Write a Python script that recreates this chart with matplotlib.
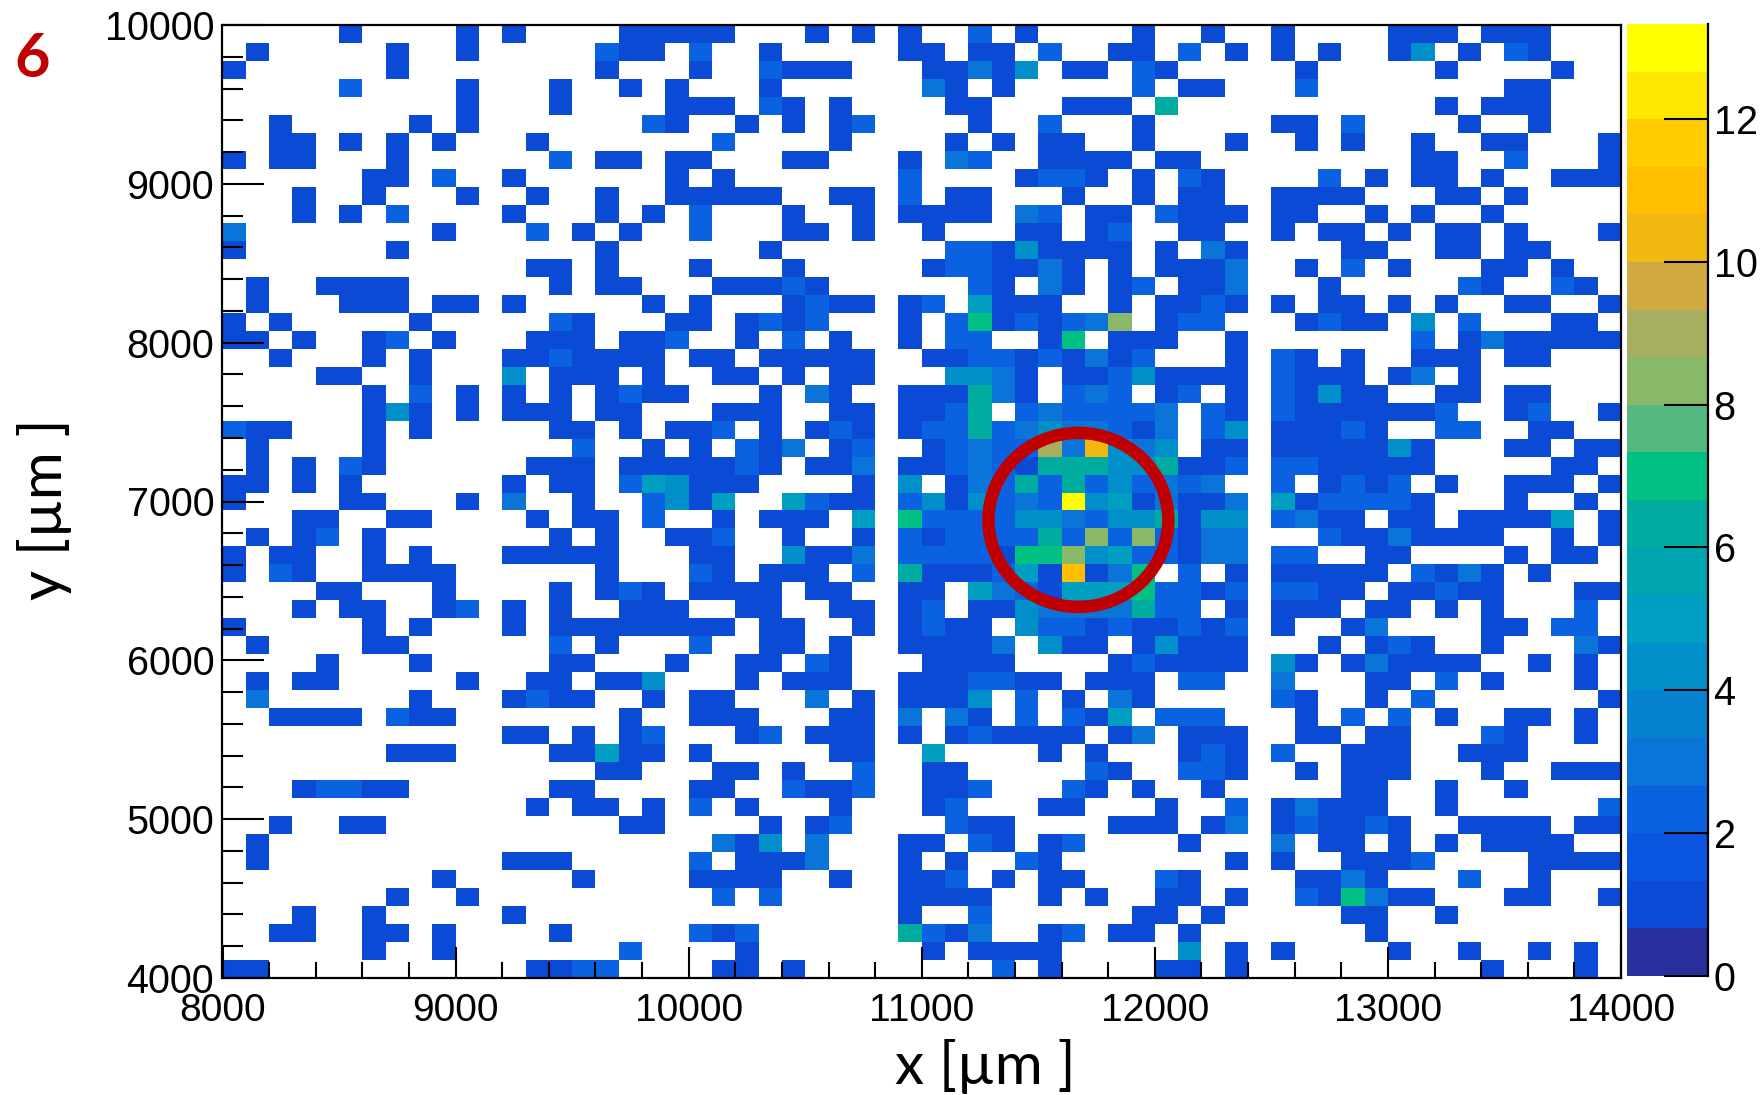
import matplotlib
matplotlib.use("Agg")
import matplotlib.pyplot as plt
import numpy as np
from matplotlib.colors import BoundaryNorm, ListedColormap
from matplotlib.patches import Ellipse
from matplotlib.ticker import MultipleLocator

# counts per cell, top row first: . = empty, 1-9, a-d = 10-13
counts_left = [
    ".....1....1.1....111", ".1.....1..1.....211.", "1......1........1...",
    ".....2....1...1..1.1", "..........1...1....1", "..1.....1.1.......21",
    "..11.1.1.1...1......", "1.11...1......2.11.1", "......11.2..1......1",
    "...1..1...1..1..1..1", "...1.1.2....1...1.1.", "3........1...2.1.1..",
    "1......1........1...", ".............11.1...", ".1..1111......1.11..",
    ".1...111.11.1.....1.", "1.1.....1.....21...1", "11.1..12.1...111.112",
    "..1...1.1...1121111.", "....11..1...4.111.1.", "......1.2.1.1.1.1211",
    "......141.1.111.11..", "211...1.1.....11.1.1", ".1....1........2..1.",
    ".1.1.21......111.111", "11.1.1......1.11.254", "1....11...1.3..1..24",
    "...11..11....1.11.2.", ".1.12.1.......1.1..1", "1.11..1.1...11111...",
    "1.21..1111......1...", "....11...1....1.121.", "...1.11..12.1.1..111",
    "1.....1.1...1.111111", ".1....11......2.1...", "....1...1.....11...1",
    ".1.11.....1..11.114.", ".3......1...1211..1.", "..1111.211.......1..",
    "............11.1.12.", ".......111....11511.", "................11..",
    "...12211......11....", ".............1.11.1.", "..1..11..........11.",
    ".1..................", ".1..........111.....", ".........1.....1....",
    ".......1..1.........", "...1..1.....1.......", "..11..11.1....1.....",
    "......1..1.......2..", "11...........1122...",
]
counts_mid = [
    "11...1.1.1..2.1....1", "2..1.....11.11.2..11", "1..2111...11314.11.2",
    "...1......31.1.....2", "11.21.1....11...111.", "..1.1.12....1..2...1",
    ".2....1....1.1.11..1", "1...11...1.32..1111.", ".1.......2....1221.1",
    "1111..11.2.11...1..1", "2...1..1.1111.32.11.", "2...11.1..1...11.12.",
    "...1.......22141111.", "1...1.....1221131.1.", ".11121......21.31.12",
    "1...1211.12.5111..1.", "1.1212...1.27121238.", "..1.2.1..1.22..17.11",
    "11.11111..1122121312", ".11.1.11...4431.1124", "...1.31..111631.232.",
    ".111..11.1126.232222", "12.1.121.12262343321", "1.213.12..1232293a43",
    "1121.113.11232166644", "111....1.4.132626242", "15..5211.2414232d451",
    ".1.111.5.72222443244", "12..1..1.21222262828", "11..4113.22221778452",
    "21.111.2.6111251b137", "1111.11..11.53215557", "..11..11.12.11433336",
    "11.11..1.1211.422121", "2..11.1..11113.411.1", "..11.21...1111....12",
    "..1.111..1112211.111", "11...3.1.1114.2.1.31", "111...11.3.31.2.215.",
    "..12.111.1.121111.13", "1.....11..5....1.1..", ".11.1..2..11.....21.",
    "11..2112..112...21.1", "2.1...1...12...11...", "...1.12....211....11",
    ".314.3...11.21.12...", "2.1113...1.1..21....", "1111..1..112.1.11...",
    ".2.2.....1111..1.1..", ".........1..2......1", "212......6213..12.11",
    "..1.......1.1111....", ".11.1........2.1....",
]
counts_right = [
    "..1..1....111.111...", ".2.1.1.1..14.1.21...", "1.....1.....1....1..",
    ".11...2........11...", "6...........1.111...", ".....11.2....1..1...",
    "...1..1.1..1..11...1", "11.........11..2...1", ".21....2.1.11.1..111",
    ".11..1111...11.1....", "2111.11..1.1..1.....", ".11..1.11.1.11.1...1",
    "1.31....11..11.11...", "1113..1.2.1...11.1..", ".113...1.....21..21.",
    "1121.1.11.1.1..11..1", "122...1211.4.2...11.", "1..1.......2.1311111",
    "...1.21.1..111.11...", "1111.2111.13.1......", "12.1.21411..11.11...",
    "3.21.21111112..12..1", "3.24.11121..22..11..", "4.11.1111141...11.11",
    "6112.2211111.....11.", "323..2.1212.1..111.1", "3113.5122221...1..1.",
    "6144.2311.11.11115.1", "2133...21131111..1.1", "2133.22..11....1.11.",
    ".2.1.11111.2131.1...", "2212.2211.11211...11", "22.1.111.11.1.1...2.",
    "1212.1..13....11.22.", "4111...1.121..1...31", "1111.41.131111..1.1.",
    ".22..3...11.2.1...1.", ".....21..1.2.......1", "222...1.2.2.1..11.1.",
    ".111..11.11...21..1.", ".121.2..111..111....", ".221..1.111...1..111",
    "..1.....11..1..1....", "1..2.13111..1......2", "1.13.121121..1111.11",
    ".1...3.11.1.1.1111..", "...1.1..1112....1111", "21....1131...2..1...",
    "11.1..217311...11..1", "1.1.....11..1.......", ".1.......1..........",
    ".4.1.1....1..1..1.1.", "11.1..........1...1.",
]

band_colors = [
    "#2a2f9e", "#0b4ad4", "#0a55e0", "#0a62e0", "#0a74d8", "#0682d0", "#008fc8",
    "#009ec0", "#00a4b0", "#00aca0", "#00c084", "#55b880", "#88b868", "#a8ae60",
    "#d0aa40", "#f0b810", "#ffbe00", "#ffcc00", "#ffe800", "#ffff00",
]
x_ticks = [8000, 9000, 10000, 11000, 12000, 13000, 14000]
y_ticks = [4000, 5000, 6000, 7000, 8000, 9000, 10000]
cbar_ticks = [0, 2, 4, 6, 8, 10, 12]

W, H = 1765, 1095
plt.rcParams["font.family"] = ["Liberation Sans", "DejaVu Sans"]

rows = [a + b + c for a, b, c in zip(counts_left, counts_mid, counts_right)]
grid = np.array([[np.nan if ch == "." else int(ch, 16) for ch in r] for r in rows])
grid = np.ma.masked_invalid(grid)

x_edges = np.linspace(8000, 14000, grid.shape[1] + 1)
y_edges = np.linspace(10000, 4000, grid.shape[0] + 1)
cmap = ListedColormap(band_colors)
norm = BoundaryNorm(np.linspace(0, 13.33, 21), cmap.N)


def pixel_axes(left, top, right, bottom):
    return fig.add_axes([left / W, 1 - bottom / H, (right - left) / W, (bottom - top) / H])


fig = plt.figure(figsize=(W / 100, H / 100), dpi=100)
ax = pixel_axes(222.5, 25, 1621, 978)
mesh = ax.pcolormesh(x_edges, y_edges, grid, cmap=cmap, norm=norm)
ax.set_xlim(8000, 14000)
ax.set_ylim(4000, 10000)

ax.set_xticks(x_ticks)
ax.set_yticks(y_ticks)
ax.xaxis.set_minor_locator(MultipleLocator(200))
ax.yaxis.set_minor_locator(MultipleLocator(200))
ax.tick_params(axis="x", which="major", direction="in", length=22, width=1.5, labelsize=28, pad=11)
ax.tick_params(axis="x", which="minor", direction="in", length=11.5, width=1.5)
ax.tick_params(axis="y", which="major", direction="in", length=30, width=1.5, labelsize=28.5, pad=6)
ax.tick_params(axis="y", which="minor", direction="in", length=15, width=1.5)
for spine in ax.spines.values():
    spine.set_linewidth(1.6)

ring = Ellipse((11672, 6884), 772, 1096, fill=False, edgecolor="#c00000", linewidth=9)
ax.add_patch(ring)

cax = pixel_axes(1627, 24, 1708, 976)
cb = fig.colorbar(mesh, cax=cax, spacing="proportional", drawedges=False)
cb.set_ticks(cbar_ticks)
cb.minorticks_off()
cb.outline.set_visible(False)
cax.spines["right"].set_visible(True)
cax.spines["right"].set_linewidth(1.6)
cax.tick_params(axis="y", which="major", direction="in", length=32, width=1.5, labelsize=28.5, pad=4)

label_font = ["Lato", "DejaVu Sans"]
fig.text(985 / W, 1 - 1067 / H, "x [µm ]", fontsize=42, family=label_font, ha="center", va="center")
fig.text(45 / W, 1 - 509 / H, "y [µm ]", fontsize=42, family=label_font, rotation=90, ha="center", va="center")
fig.text(32 / W, 1 - 59 / H, "6", fontsize=44, family=label_font, weight="bold", color="#c00000", ha="center", va="center")

fig.savefig("out.png", dpi=100)
plt.close(fig)
